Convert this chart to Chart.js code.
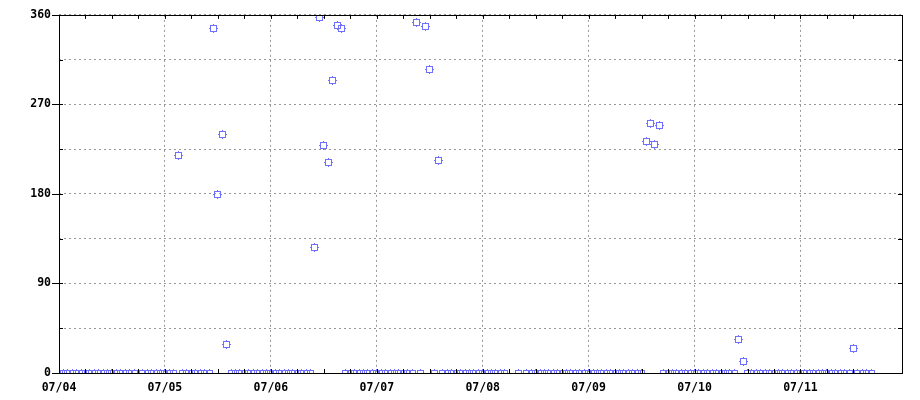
<!DOCTYPE html>
<html><head><meta charset="utf-8">
<script src="https://cdn.jsdelivr.net/npm/chart.js@4.4.0/dist/chart.umd.min.js"></script>
<style>html,body{margin:0;padding:0;background:#fff;}</style>
</head><body>
<canvas id="c" width="920" height="400"></canvas>
<script>
// x = hours since 07/04 00:00, y = direction in degrees
const dayLabels = ['07/04','07/05','07/06','07/07','07/08','07/09','07/10','07/11'];
const yTickLabels = [0, 90, 180, 270, 360];
const hours = [
  0,1,2,3,4,5,6,7,8,9,10,11,12,13,14,15,16,17,
  19,20,21,22,23,24,25,26,27,
  28,29,30,31,32,33,34,35,36,37,38,
  39,40,41,42,43,44,45,46,47,48,49,50,51,52,53,54,55,56,57,
  58,59,60,61,62,63,64,
  65,66,67,68,69,70,71,72,73,74,75,76,77,78,79,80,
  81,82,83,84,85,86,
  87,88,89,90,91,92,93,94,95,96,97,98,99,100,101,
  104,
  106,107,108,109,110,111,112,113,114,115,116,117,118,119,120,121,122,123,124,125,126,127,128,129,130,131,132,
  133,134,135,136,
  137,138,139,140,141,142,143,144,145,146,147,148,149,150,151,152,153,
  154,155,
  156,157,158,159,160,161,162,163,164,165,166,167,168,169,170,171,172,173,174,175,176,177,178,179,
  180,
  181,182,183,184
];
const directions = [
  0,0,0,0,0,0,0,0,0,0,0,0,0,0,0,0,0,0,
  0,0,0,0,0,0,0,0,219,
  0,0,0,0,0,0,0,346,179,240,29,
  0,0,0,0,0,0,0,0,0,0,0,0,0,0,0,0,0,0,0,
  126,357,229,212,294,349,346,
  0,0,0,0,0,0,0,0,0,0,0,0,0,0,0,0,
  352,0,348,305,0,214,
  0,0,0,0,0,0,0,0,0,0,0,0,0,0,0,
  0,
  0,0,0,0,0,0,0,0,0,0,0,0,0,0,0,0,0,0,0,0,0,0,0,0,0,0,0,
  233,251,230,249,
  0,0,0,0,0,0,0,0,0,0,0,0,0,0,0,0,0,
  34,12,
  0,0,0,0,0,0,0,0,0,0,0,0,0,0,0,0,0,0,0,0,0,0,0,0,
  25,
  0,0,0,0
];

const MARK = '#7070ff';
const GRID = '#999999';
const FONT = {family: '"DejaVu Sans Mono", "Liberation Mono", monospace', size: 11.5, weight: 'bold'};

function makeMarker(color) {
  const c = document.createElement('canvas');
  c.width = 9; c.height = 9;
  const g = c.getContext('2d');
  g.strokeStyle = color; g.lineWidth = 1;
  g.strokeRect(1.5, 1.5, 6, 6);
  g.fillStyle = color;
  g.fillRect(4, 0, 1, 1); g.fillRect(4, 8, 1, 1);
  g.fillRect(0, 4, 1, 1); g.fillRect(8, 4, 1, 1);
  return c;
}

const points = hours.map((h, i) => ({x: h, y: directions[i]}));

const framePlugin = {
  id: 'frame',
  beforeDatasetsDraw(chart) { chart.ctx.imageSmoothingEnabled = false; },
  afterDraw(chart) {
    const {ctx, chartArea: a, scales: {x, y}} = chart;
    ctx.save();
    ctx.strokeStyle = '#000';
    ctx.lineWidth = 1;
    ctx.beginPath();
    x.ticks.forEach(t => {
      if (t.value % 6 !== 0) return;
      const px = Math.round(x.getPixelForValue(t.value)) + 0.5;
      ctx.moveTo(px, a.bottom); ctx.lineTo(px, a.bottom - 4);
      ctx.moveTo(px, a.top); ctx.lineTo(px, a.top + 4);
    });
    y.ticks.forEach(t => {
      const py = Math.round(y.getPixelForValue(t.value)) + 0.5;
      const major = yTickLabels.includes(t.value);
      ctx.moveTo(a.left - (major ? 7 : 0), py); ctx.lineTo(a.left + 4, py);
      ctx.moveTo(a.right, py); ctx.lineTo(a.right - 4, py);
    });
    ctx.stroke();
    ctx.strokeRect(Math.round(a.left) + 0.5, Math.round(a.top) + 0.5,
                   Math.round(a.right - a.left), Math.round(a.bottom - a.top));
    ctx.restore();
  }
};

new Chart(document.getElementById('c'), {
  type: 'scatter',
  data: {
    datasets: [{
      data: points,
      pointStyle: makeMarker(MARK),
      pointRadius: 4,
      pointHoverRadius: 4,
      showLine: false
    }]
  },
  options: {
    responsive: false,
    animation: false,
    devicePixelRatio: 1,
    layout: {autoPadding: false, padding: {top: 13, right: 18, left: 0, bottom: 0}},
    plugins: {legend: {display: false}, tooltip: {enabled: false}},
    scales: {
      x: {
        type: 'linear', min: 0, max: 191,
        afterFit(s) { s.height = 27; },
        grid: {
          drawTicks: false,
          color: c => (c.tick && c.tick.value % 24 === 0) ? GRID : 'rgba(0,0,0,0)',
          lineWidth: 1
        },
        border: {display: false, dash: [2, 3]},
        ticks: {
          stepSize: 6, autoSkip: false, maxRotation: 0, minRotation: 0,
          padding: 8, color: '#000', font: FONT,
          callback: v => (v % 24 === 0 && dayLabels[v / 24] !== undefined) ? dayLabels[v / 24] : ''
        }
      },
      y: {
        type: 'linear', min: 0, max: 360,
        afterFit(s) { s.width = 59; },
        grid: {drawTicks: false, color: GRID, lineWidth: 1},
        border: {display: false, dash: [2, 3]},
        ticks: {
          stepSize: 45, padding: 8, color: '#000', font: FONT,
          callback: v => yTickLabels.includes(v) ? String(v) : ''
        }
      }
    }
  },
  plugins: [framePlugin]
});
</script>
</body></html>
